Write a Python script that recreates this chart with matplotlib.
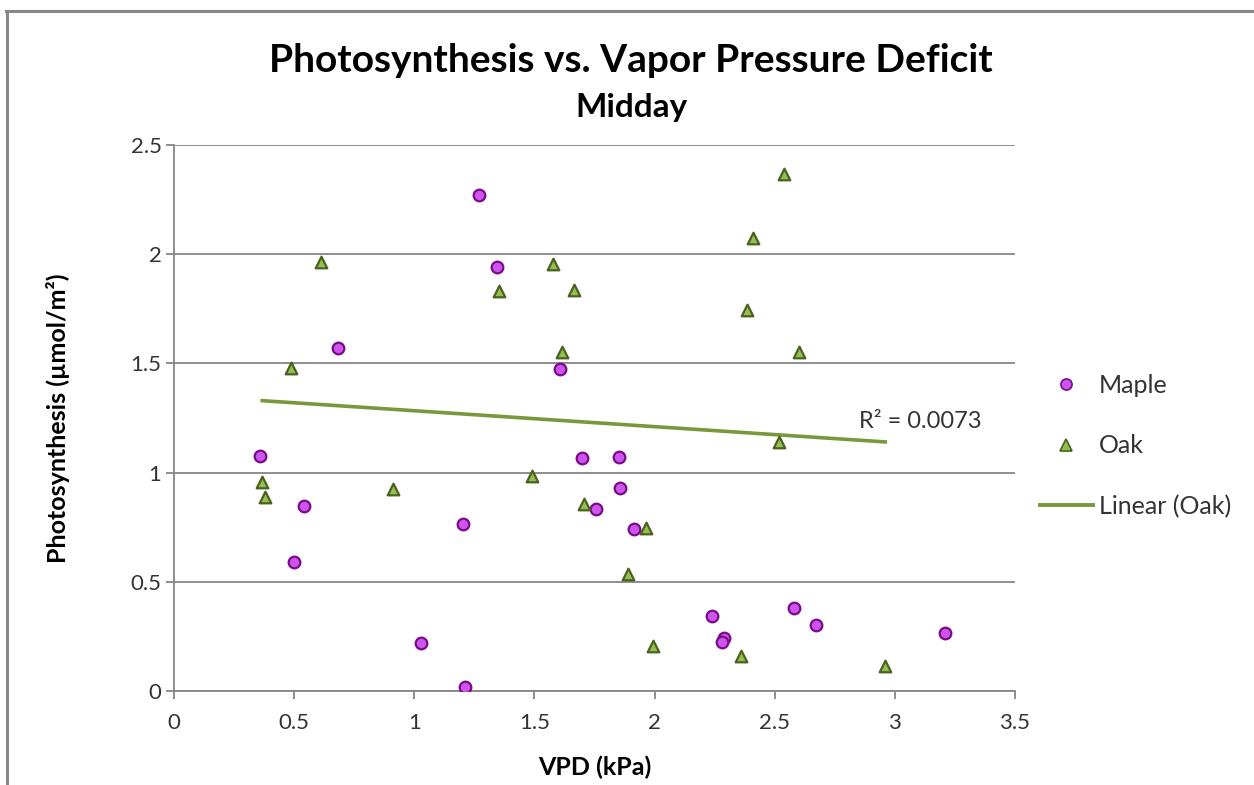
import numpy as np
from matplotlib import pyplot as plt
from matplotlib.lines import Line2D

# Maple and oak readings (VPD in kPa, photosynthesis in umol/m2)
maple_vpd = [1.269, 1.344, 0.682, 1.606, 0.358, 1.698, 1.852, 1.856, 1.756, 0.541, 1.914,
             1.203, 0.499, 1.028, 1.211, 2.239, 2.289, 2.280, 2.580, 2.672, 3.208]
maple_ps = [2.271, 1.941, 1.570, 1.474, 1.076, 1.067, 1.071, 0.929, 0.833, 0.847, 0.742,
            0.765, 0.591, 0.220, 0.018, 0.343, 0.243, 0.224, 0.380, 0.302, 0.266]

oak_vpd = [2.538, 2.411, 2.383, 2.601, 2.516, 0.612, 1.578, 1.354, 1.663, 1.613, 0.486,
           0.367, 0.379, 0.913, 1.489, 1.964, 1.706, 1.888, 1.995, 2.361, 2.960]
oak_ps = [2.367, 2.073, 1.743, 1.551, 1.140, 1.966, 1.957, 1.832, 1.836, 1.551, 1.480,
          0.958, 0.888, 0.923, 0.984, 0.748, 0.857, 0.537, 0.207, 0.160, 0.114]

r2_label = 'R² = 0.0073'

plt.rcParams['font.family'] = ['Lato', 'DejaVu Sans']

fig = plt.figure(figsize=(12.54, 7.85), dpi=100)
ax = fig.add_axes([174/1254, 1-691/785, (1015-174)/1254, (691-145)/785])

grid_c = '#868686'
txt_c = '#333333'
ax.scatter(maple_vpd, maple_ps, s=70, marker='o', facecolor='#CC55EE', edgecolor='#7A0A8A',
           linewidth=1.6, zorder=3)
ax.scatter(oak_vpd, oak_ps, s=70, marker='^', facecolor='#92C050', edgecolor='#4A6120',
           linewidth=1.6, zorder=3)

# linear trendline for oak
slope, icpt = np.polyfit(oak_vpd, oak_ps, 1)
xs = np.array([min(oak_vpd), max(oak_vpd)])
ax.plot(xs, slope*xs + icpt, color='#77993C', linewidth=2.6, zorder=2)
ax.text(2.85, 1.235, r2_label, fontsize=17, color=txt_c, ha='left', va='center')

ax.set_xlim(0, 3.5)
ax.set_ylim(0, 2.5)
ax.set_xticks(np.arange(0, 3.51, 0.5))
ax.set_yticks(np.arange(0, 2.51, 0.5))
ax.set_xticklabels(['0', '0.5', '1', '1.5', '2', '2.5', '3', '3.5'])
ax.set_yticklabels(['0', '0.5', '1', '1.5', '2', '2.5'])
ax.yaxis.grid(True, color=grid_c, linewidth=1.3)
ax.set_axisbelow(True)
for s in ['top', 'right']:
    ax.spines[s].set_visible(False)
for s in ['left', 'bottom']:
    ax.spines[s].set_color(grid_c)
    ax.spines[s].set_linewidth(1.3)
ax.tick_params(axis='both', direction='out', length=6, width=1.3, color=grid_c,
               labelsize=16, labelcolor=txt_c)
ax.tick_params(axis='y', pad=3)
ax.tick_params(axis='x', pad=10)

ax.set_xlabel('VPD (kPa)', fontsize=18, fontweight='bold', labelpad=16)
ax.set_ylabel('Photosynthesis (µmol/m²)', fontsize=18, fontweight='bold')
ax.yaxis.set_label_coords(-0.124, 0.5)

fig.text(631/1254, 1-61/785, 'Photosynthesis vs. Vapor Pressure Deficit', fontsize=28,
         fontweight='bold', ha='center', va='center')
fig.text(631/1254, 1-107/785, 'Midday', fontsize=24, fontweight='bold', ha='center', va='center')

handles = [
    Line2D([], [], linestyle='none', marker='o', markersize=8, markerfacecolor='#CC55EE',
           markeredgecolor='#7A0A8A', markeredgewidth=1.2, label='Maple'),
    Line2D([], [], linestyle='none', marker='^', markersize=8, markerfacecolor='#92C050',
           markeredgecolor='#4A6120', markeredgewidth=1.2, label='Oak'),
    Line2D([], [], color='#77993C', linewidth=2.8, label='Linear (Oak)'),
]
leg = fig.legend(handles=handles, loc='center left', bbox_to_anchor=(1040/1254, 1-446/785),
                 frameon=False, fontsize=18, labelspacing=1.5, handlelength=2.1,
                 handletextpad=0.25, borderpad=0, borderaxespad=0)
for t in leg.get_texts():
    t.set_color(txt_c)

# chart border (top and left edges visible)
fig.add_artist(Line2D([6/1254, 1], [1-11/785, 1-11/785], color='#888888', linewidth=2.2))
fig.add_artist(Line2D([7/1254, 7/1254], [0, 1-11/785], color='#888888', linewidth=2.2))

fig.savefig('out.png', dpi=100)
